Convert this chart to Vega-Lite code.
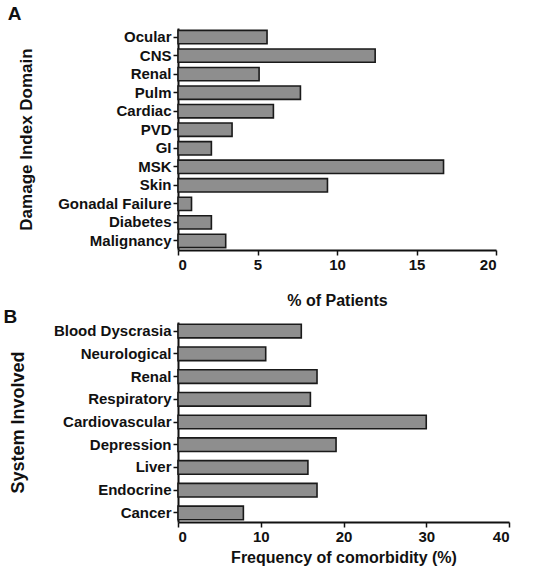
{
  "$schema": "https://vega.github.io/schema/vega-lite/v6.json",
  "padding": {"left": 3, "top": 5, "right": 5, "bottom": 3},
  "background": "white",
  "config": {
    "font": "Liberation Sans",
    "view": {"stroke": null},
    "axis": {
      "grid": false,
      "domainColor": "#111",
      "domainWidth": 2,
      "tickColor": "#111",
      "tickWidth": 1.5,
      "tickSize": 5,
      "labelFont": "Liberation Sans",
      "labelFontWeight": "bold",
      "labelFontSize": 15,
      "labelColor": "#111",
      "titleFont": "Liberation Sans",
      "titleColor": "#111"
    },
    "title": {"font": "Liberation Sans", "fontSize": 19, "fontWeight": "bold", "color": "#111", "anchor": "start", "frame": "bounds"},
    "concat": {"spacing": 0}
  },
  "datasets": {
    "damage": [
      {"domain": "Ocular", "pct": 5.6},
      {"domain": "CNS", "pct": 12.4},
      {"domain": "Renal", "pct": 5.1},
      {"domain": "Pulm", "pct": 7.7},
      {"domain": "Cardiac", "pct": 6.0},
      {"domain": "PVD", "pct": 3.4},
      {"domain": "GI", "pct": 2.1},
      {"domain": "MSK", "pct": 16.7},
      {"domain": "Skin", "pct": 9.4},
      {"domain": "Gonadal Failure", "pct": 0.85},
      {"domain": "Diabetes", "pct": 2.1},
      {"domain": "Malignancy", "pct": 3.0}
    ],
    "comorb": [
      {"system": "Blood Dyscrasia", "freq": 14.9},
      {"system": "Neurological", "freq": 10.6},
      {"system": "Renal", "freq": 16.8},
      {"system": "Respiratory", "freq": 16.0},
      {"system": "Cardiovascular", "freq": 30.0},
      {"system": "Depression", "freq": 19.1},
      {"system": "Liver", "freq": 15.7},
      {"system": "Endocrine", "freq": 16.8},
      {"system": "Cancer", "freq": 7.9}
    ]
  },
  "vconcat": [
    {
      "title": {"text": "A", "offset": 4, "dx": -10},
      "data": {"name": "damage"},
      "width": 318,
      "height": 222,
      "mark": {"type": "bar", "fill": "#8e8e8e", "stroke": "#1a1a1a", "strokeWidth": 1.6},
      "encoding": {
        "y": {
          "field": "domain", "type": "nominal", "sort": null,
          "scale": {"paddingInner": 0.28, "paddingOuter": 0.13},
          "axis": {"title": "Damage Index Domain", "titleFontSize": 17, "titleFontWeight": "bold", "titlePadding": 22}
        },
        "x": {
          "field": "pct", "type": "quantitative",
          "scale": {"domain": [0, 20], "nice": false},
          "axis": {"values": [0, 5, 10, 15, 20], "title": "% of Patients", "titleFontSize": 16, "titleFontWeight": "bold", "titlePadding": 20, "labelPadding": 2}
        }
      }
    },
    {
      "title": {"text": "B", "offset": -5, "dx": -6},
      "data": {"name": "comorb"},
      "width": 331,
      "height": 200,
      "mark": {"type": "bar", "fill": "#8e8e8e", "stroke": "#1a1a1a", "strokeWidth": 1.6},
      "encoding": {
        "y": {
          "field": "system", "type": "nominal", "sort": null,
          "scale": {"paddingInner": 0.4, "paddingOuter": 0.1},
          "axis": {"title": "System Involved", "titleFontSize": 18, "titleFontWeight": "bold", "titlePadding": 26}
        },
        "x": {
          "field": "freq", "type": "quantitative",
          "scale": {"domain": [0, 40], "nice": false},
          "axis": {"values": [0, 10, 20, 30, 40], "title": "Frequency of comorbidity (%)", "titleFontSize": 16, "titleFontWeight": "bold", "titlePadding": 5, "labelPadding": 2}
        }
      }
    }
  ]
}
